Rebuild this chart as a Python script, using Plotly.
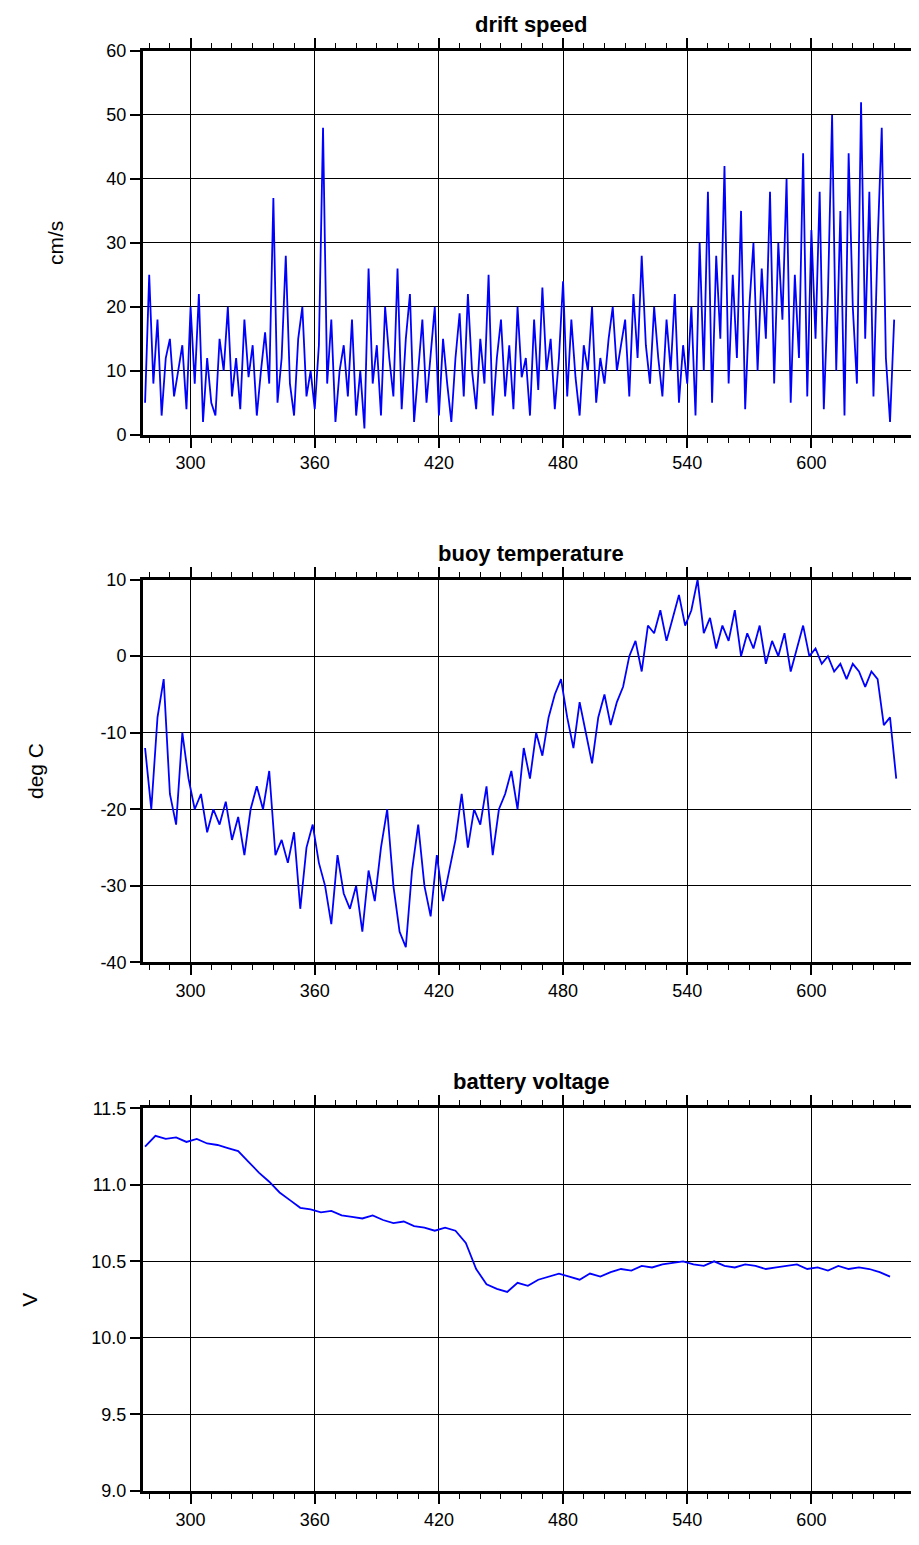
import plotly.graph_objects as go

speed_days = list(range(278, 641, 2))
speed = [5,25,8,18,3,12,15,6,10,14,4,20,
 8,22,2,12,5,3,15,10,20,6,12,4,18,9,14,3,10,16,8,37,
 5,12,28,8,3,15,20,6,10,4,14,48,8,18,2,10,14,6,18,3,
 10,1,26,8,14,3,20,12,6,26,4,15,22,2,10,18,5,12,20,3,
 15,8,2,12,19,6,22,10,4,15,8,25,3,12,18,6,14,4,20,9,
 12,3,18,7,23,10,15,4,12,24,6,18,9,3,14,10,20,5,12,8,
 15,20,10,14,18,6,22,12,28,14,8,20,12,6,18,10,22,5,14,8,
 20,3,30,10,38,5,28,15,42,8,25,12,35,4,20,30,10,26,15,38,
 8,30,18,40,5,25,12,44,6,32,15,38,4,22,50,10,35,3,44,20,
 8,52,15,38,6,30,48,12,2,18]

temp_days = list(range(278, 642, 3))
temp = [-12,-20,-8,-3,-18,-22,-10,-16,
 -20,-18,-23,-20,-22,-19,-24,-21,-26,-20,
 -17,-20,-15,-26,-24,-27,-23,-33,-25,-22,
 -27,-30,-35,-26,-31,-33,-30,-36,-28,-32,
 -25,-20,-30,-36,-38,-28,-22,-30,-34,-26,
 -32,-28,-24,-18,-25,-20,-22,-17,-26,-20,
 -18,-15,-20,-12,-16,-10,-13,-8,-5,-3,
 -8,-12,-6,-10,-14,-8,-5,-9,-6,-4,
 0,2,-2,4,3,6,2,5,8,4,
 6,10,3,5,1,4,2,6,0,3,
 1,4,-1,2,0,3,-2,1,4,0,
 1,-1,0,-2,-1,-3,-1,-2,-4,-2,
 -3,-9,-8,-16]

volt_days = list(range(278, 639, 5))
volt = [11.25,11.32,11.30,11.31,11.28,11.30,11.27,11.26,11.24,11.22,
 11.15,11.08,11.02,10.95,10.90,10.85,10.84,10.82,10.83,10.80,
 10.79,10.78,10.80,10.77,10.75,10.76,10.73,10.72,10.70,10.72,
 10.70,10.62,10.45,10.35,10.32,10.30,10.36,10.34,10.38,10.40,
 10.42,10.40,10.38,10.42,10.40,10.43,10.45,10.44,10.47,10.46,
 10.48,10.49,10.50,10.48,10.47,10.50,10.47,10.46,10.48,10.47,
 10.45,10.46,10.47,10.48,10.45,10.46,10.44,10.47,10.45,10.46,
 10.45,10.43,10.40]

speed_ticks = [0, 10, 20, 30, 40, 50, 60]
temp_ticks = [-40, -30, -20, -10, 0, 10]
volt_ticks = [9.0, 9.5, 10.0, 10.5, 11.0, 11.5]

panels = [
    ("drift speed", "cm/s", speed_days, speed, [0, 60], speed_ticks, [str(t) for t in speed_ticks], [0.7335, 1.0], 38),
    ("buoy temperature", "deg C", temp_days, temp, [-40, 10], temp_ticks, [str(t) for t in temp_ticks], [0.3671, 0.6329], 52),
    ("battery voltage", "V", volt_days, volt, [9.0, 11.5], volt_ticks, [f"{t:.1f}" for t in volt_ticks], [0.0, 0.2658], 48),
]

fam = "Liberation Sans, Arial, sans-serif"
font = dict(family=fam, size=18, color="black")
fig = go.Figure()
for i, (title, ylab, xd, yd, yr, tv, tt, dom, so) in enumerate(panels, start=1):
    fig.add_trace(go.Scatter(x=xd, y=yd, mode="lines", line=dict(color="blue", width=1.8),
                             xaxis=f"x{i}", yaxis=f"y{i}", showlegend=False))
    fig.update_layout(**{
        f"xaxis{i}": dict(domain=[0, 1], range=[277, 652], anchor=f"y{i}", tick0=0, dtick=60,
                         showline=True, linewidth=3, linecolor="black", mirror="ticks",
                         ticks="outside", ticklen=10, tickwidth=1.5, tickcolor="black", showgrid=True,
                         gridcolor="black", gridwidth=1, zeroline=False, tickfont=font, automargin=False,
                         minor=dict(dtick=10, ticks="outside", ticklen=5, tickwidth=1, tickcolor="black", showgrid=False)),
        f"yaxis{i}": dict(domain=dom, range=yr, anchor=f"x{i}", tickvals=tv, ticktext=tt,
                         showline=True, linewidth=3, linecolor="black", mirror="ticks",
                         ticks="outside", ticklen=10, tickwidth=1.5, tickcolor="black", showgrid=True,
                         gridcolor="black", gridwidth=1, zeroline=False, tickfont=font, automargin=False,
                         title=dict(text=ylab, font=dict(family=fam, size=21, color="black"), standoff=so)),
    })
    fig.add_annotation(text=f"<b>{title}</b>", xref="paper", yref="paper", x=0.5, y=dom[1],
                       yshift=12, yanchor="bottom", showarrow=False,
                       font=dict(family=fam, size=22, color="black"))

fig.update_layout(width=919, height=1545, margin=dict(l=135, r=8, t=43, b=62, autoexpand=False),
                  paper_bgcolor="white", plot_bgcolor="white")
fig.write_html("out.html")
